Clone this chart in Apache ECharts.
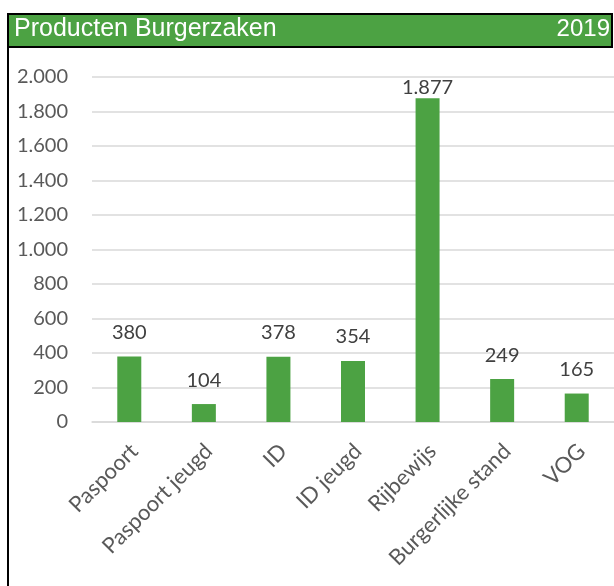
<!DOCTYPE html>
<html>
<head>
<meta charset="utf-8">
<script src="https://cdn.jsdelivr.net/npm/echarts@6/dist/echarts.min.js"></script>
<style>
  html, body { margin: 0; padding: 0; background: #fff; }
  #chart { width: 614px; height: 586px; }
</style>
</head>
<body>
<div id="chart"></div>
<script>
let categories = ['Paspoort', 'Paspoort jeugd', 'ID', 'ID jeugd', 'Rijbewijs', 'Burgerlijke stand', 'VOG']
let values = [380, 104, 378, 354, 1877, 249, 165]
let titleText = 'Producten Burgerzaken'
let yearText = '2019'

// Dutch thousand separator
let nl = v => String(v).replace(/\B(?=(\d{3})+(?!\d))/g, '.')

let green = '#4ca243'
let font = 'Lato'
let maxVal = Math.max(...values)

let chart = echarts.init(document.getElementById('chart'))
chart.setOption({
    animation: false,
    grid: {
        left: 92,
        top: 77,
        width: 523,
        height: 345
    },
    graphic: [
        // header band + frame
        { type: 'rect', shape: { x: 8, y: 14, width: 604, height: 33 }, style: { fill: green } },
        { type: 'rect', shape: { x: 7, y: 13, width: 606, height: 2 }, style: { fill: '#000' } },
        { type: 'rect', shape: { x: 7, y: 46, width: 606, height: 2 }, style: { fill: '#000' } },
        { type: 'rect', shape: { x: 611, y: 13, width: 2, height: 35 }, style: { fill: '#000' } },
        { type: 'rect', shape: { x: 7, y: 13, width: 2, height: 573 }, style: { fill: '#000' } },
        {
            type: 'text', left: 14, top: 17,
            style: { text: titleText, fill: '#fff', font: '25px "Liberation Sans", Arial, sans-serif' }
        },
        {
            type: 'text', right: 4, top: 17,
            style: { text: yearText, fill: '#fff', font: '24px "Liberation Sans", Arial, sans-serif' }
        }
    ],
    xAxis: {
        type: 'category',
        data: categories,
        axisLine: { show: true, lineStyle: { color: '#d9d9d9', width: 1.5 } },
        axisTick: { show: false },
        axisLabel: {
            interval: 0,
            rotate: 45,
            margin: 15,
            align: 'right',
            verticalAlign: 'top',
            padding: [0, 4, 0, 0],
            color: '#595959',
            fontSize: 22,
            fontFamily: font
        }
    },
    yAxis: {
        type: 'value',
        min: 0,
        max: 2000,
        interval: 200,
        axisLine: { show: false },
        axisTick: { show: false },
        splitLine: { lineStyle: { color: '#d9d9d9', width: 1.5 } },
        axisLabel: {
            margin: 24,
            color: '#595959',
            fontSize: 20,
            fontFamily: font,
            formatter: v => nl(v)
        }
    },
    series: [{
        type: 'bar',
        // the tallest label sits tight on its bar so it stays inside the plot
        data: values.map(v => v === maxVal ? { value: v, label: { distance: 1 } } : v),
        barWidth: 24,
        itemStyle: { color: green },
        label: {
            show: true,
            position: 'top',
            distance: 14,
            color: '#404040',
            fontSize: 20,
            fontFamily: font,
            formatter: p => nl(p.value)
        }
    }]
})
</script>
</body>
</html>
